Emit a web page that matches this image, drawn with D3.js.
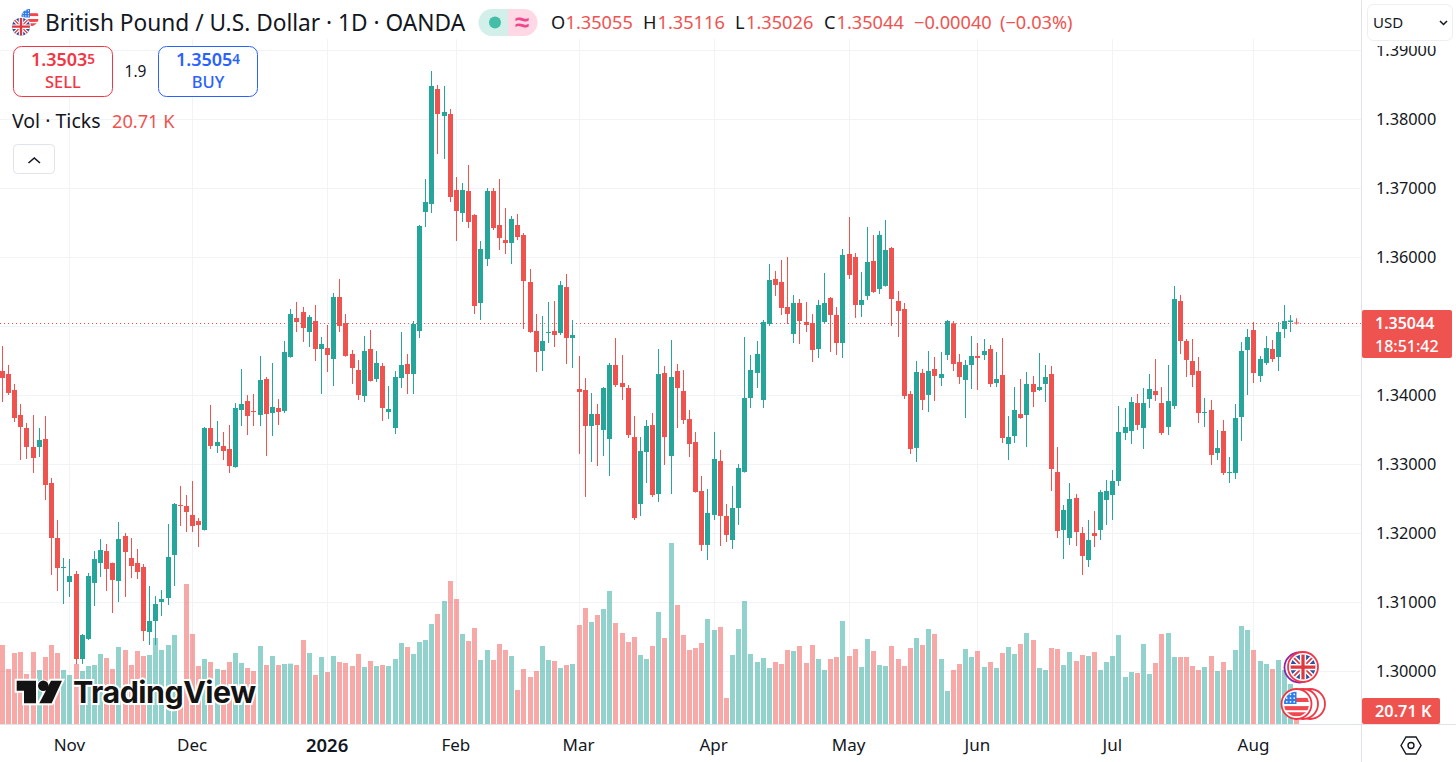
<!DOCTYPE html>
<html>
<head>
<meta charset="utf-8">
<title>GBPUSD</title>
<script src="https://cdn.jsdelivr.net/npm/d3@7/dist/d3.min.js"></script>
<style>
html, body { margin: 0; padding: 0; background: #fff; overflow: hidden; }
svg { display: block; font-family: "Noto Sans", sans-serif; }
</style>
</head>
<body>
<svg id="chart" width="1456" height="762"></svg>
<script>
const opens = [1.34352,1.34309,1.34077,1.33715,1.33526,1.33251,1.33251,1.33367,1.32729,1.31932,1.31497,1.31294,1.31410,1.30178,1.30468,1.31280,1.31570,1.31743,1.31570,1.31309,1.31961,1.31642,1.31570,1.31512,1.30570,1.30729,1.31004,1.31062,1.31686,1.32410,1.32396,1.32265,1.32178,1.32048,1.33526,1.33265,1.33265,1.33222,1.32961,
1.33787,1.33917,1.33772,1.33715,1.34236,1.33743,1.33816,1.33772,1.34555,1.35120,1.35207,1.34917,1.35077,1.34671,1.34686,1.34526,1.35425,1.35048,1.34599,1.34367,1.33990,1.34671,1.34236,1.34425,1.33758,1.33526,1.34251,1.34454,1.34309,1.34932,1.36657,1.36772,1.38439,1.38048,1.38077,1.36975,1.36642,1.36961,
1.36613,1.35337,1.35975,1.36961,1.36468,1.36250,1.36207,1.36468,1.36323,1.35642,1.34932,1.34642,1.34903,1.34932,1.34903,1.35569,1.34830,1.34091,1.34077,1.33555,1.33729,1.33497,1.33366,1.34439,1.34178,1.34106,1.33395,1.32424,1.33178,1.33569,1.32569,1.34323,1.33120,1.34352,1.34062,1.33656,1.33323,
1.32613,1.31831,1.32266,1.33048,1.32251,1.31903,1.32367,1.32889,1.33961,1.34324,1.33932,1.35034,1.35686,1.35643,1.35280,1.34889,1.35338,1.35063,1.35048,1.34671,1.35063,1.35411,1.35164,1.34758,1.36048,1.36005,1.35309,1.35440,1.35947,1.35541,1.35585,1.36135,1.35367,1.35251,1.34019,1.33237,1.34324,1.34005,
1.34381,1.34251,1.34584,1.35043,1.34483,1.34222,1.34439,1.34570,1.34584,1.34671,1.34178,1.34294,1.33294,1.33410,1.33729,1.33714,1.34164,1.34077,1.34164,1.34309,1.32888,1.32048,1.31932,1.32512,1.32004,1.31613,1.32004,1.32048,1.32483,1.32555,1.32758,1.33454,1.33483,1.33888,1.33526,1.33946,1.34062,1.33888,1.33541,1.33845,1.35367,1.34787,1.34497,1.34352,1.33743,1.33787,1.33164,1.33483,1.32874,1.32874,1.33685,1.34656,1.34946,1.34280,1.34468,1.34671,1.34555,1.34961,1.35062,1.35055];
const highs = [1.34715,1.34439,1.34164,1.33874,1.33599,1.33715,1.33526,1.33700,1.32801,1.32193,1.31642,1.31627,1.31454,1.30540,1.31425,1.31743,1.31917,1.31845,1.31575,1.32164,1.32004,1.31932,1.31772,1.31555,1.31236,1.31091,1.31178,1.32135,1.32439,1.32686,1.32555,1.32758,1.32222,1.33541,1.33860,1.33628,1.33468,1.33570,1.33889,
1.34381,1.34004,1.34019,1.34570,1.34265,1.34468,1.33946,1.34787,1.35251,1.35352,1.35280,1.35164,1.35309,1.34845,1.35019,1.35483,1.35686,1.35178,1.34657,1.34512,1.34860,1.34946,1.34642,1.34468,1.34135,1.34352,1.34917,1.34599,1.35077,1.36468,1.37135,1.38700,1.38497,1.38483,1.38149,1.37164,1.37077,1.37338,
1.36625,1.36236,1.37004,1.37004,1.37135,1.36714,1.36598,1.36627,1.36352,1.35830,1.35178,1.35149,1.35352,1.35366,1.35656,1.35758,1.35091,1.34569,1.34250,1.34033,1.33874,1.34120,1.34468,1.34830,1.34584,1.34149,1.33700,1.33395,1.33642,1.33743,1.34671,1.34424,1.34801,1.34453,1.34366,1.33787,1.33468,
1.32831,1.32642,1.33469,1.33208,1.32425,1.32686,1.33005,1.34845,1.34585,1.34787,1.35092,1.35903,1.35802,1.35961,1.36005,1.35454,1.35396,1.35353,1.35179,1.35382,1.35773,1.35425,1.35280,1.36121,1.36585,1.36063,1.35787,1.36440,1.36324,1.36382,1.36541,1.36150,1.35512,1.35338,1.34063,1.34498,1.34382,1.34642,
1.34555,1.34628,1.35091,1.35077,1.34599,1.34512,1.34859,1.34758,1.34816,1.34729,1.34628,1.34830,1.33700,1.34120,1.34236,1.34338,1.34280,1.34613,1.34439,1.34425,1.33251,1.32410,1.32729,1.32569,1.32091,1.32193,1.32323,1.32627,1.32772,1.32917,1.33845,1.33816,1.33975,1.34019,1.34106,1.34309,1.34526,1.34120,1.34439,1.35584,1.35454,1.34816,1.34816,1.34555,1.33961,1.33932,1.33497,1.33642,1.33106,1.33874,1.34772,1.34961,1.35062,1.34570,1.34859,1.34801,1.35062,1.35309,1.35164,1.35116];
const lows = [1.33903,1.34005,1.33613,1.33062,1.33077,1.32874,1.33106,1.32483,1.31396,1.31164,1.30975,1.31077,1.30106,1.30106,1.30454,1.30946,1.31367,1.31164,1.30845,1.31004,1.31077,1.31352,1.31338,1.30439,1.30381,1.30381,1.30801,1.30961,1.31236,1.32106,1.32019,1.32019,1.31802,1.32040,1.33222,1.33164,1.33062,1.32874,1.32950,
1.33555,1.33425,1.33555,1.33555,1.33120,1.33410,1.33570,1.33743,1.34545,1.34917,1.34773,1.34700,1.34497,1.34019,1.34338,1.34135,1.34917,1.34560,1.34164,1.33932,1.33903,1.34200,1.34193,1.33628,1.33657,1.33439,1.34106,1.34019,1.34019,1.34830,1.36439,1.36642,1.37497,1.37425,1.36801,1.36236,1.36512,1.36425,
1.35178,1.35091,1.35874,1.36395,1.36106,1.36048,1.35903,1.36250,1.34961,1.34905,1.34337,1.34352,1.34758,1.34700,1.34874,1.34453,1.34395,1.33149,1.32526,1.33033,1.32975,1.33120,1.32830,1.34120,1.33932,1.33381,1.32192,1.32250,1.32729,1.32526,1.32453,1.32990,1.32569,1.33526,1.33584,1.33105,1.32590,
1.31744,1.31613,1.32193,1.31816,1.31874,1.31773,1.32121,1.32880,1.33816,1.34106,1.33816,1.35005,1.35440,1.35164,1.35034,1.34758,1.34744,1.34918,1.34483,1.34541,1.35048,1.34628,1.34585,1.34541,1.35686,1.35121,1.35135,1.35382,1.35483,1.35469,1.35575,1.35005,1.34845,1.33947,1.33150,1.33034,1.33787,1.33758,
1.33917,1.34135,1.34512,1.34352,1.34164,1.33671,1.34091,1.34077,1.34512,1.34120,1.34120,1.33309,1.33062,1.33309,1.33660,1.33251,1.33830,1.34062,1.33903,1.32613,1.31932,1.31627,1.31830,1.31816,1.31396,1.31511,1.31801,1.31903,1.32120,1.32193,1.32685,1.33352,1.33294,1.33497,1.33222,1.33816,1.33917,1.33425,1.33425,1.33801,1.34599,1.34265,1.34120,1.33599,1.33541,1.32990,1.33062,1.32845,1.32729,1.32787,1.33338,1.34004,1.34178,1.34193,1.34439,1.34483,1.34352,1.34830,1.34917,1.35026];
const closes = [1.34251,1.34034,1.33671,1.33541,1.33251,1.33091,1.33352,1.32700,1.31932,1.31497,1.31512,1.31381,1.30178,1.30526,1.31381,1.31627,1.31758,1.31483,1.31323,1.31917,1.31729,1.31526,1.31439,1.30584,1.30729,1.30975,1.31048,1.31657,1.32425,1.32396,1.32309,1.32106,1.32120,1.33526,1.33265,1.33323,1.33193,1.32975,1.33816,
1.33874,1.33700,1.33758,1.34222,1.33729,1.33830,1.33758,1.34628,1.35178,1.35062,1.34975,1.35135,1.34671,1.34744,1.34584,1.35425,1.35005,1.34570,1.34396,1.34004,1.34642,1.34207,1.34468,1.33816,1.33801,1.34265,1.34439,1.34309,1.35033,1.36454,1.36801,1.38483,1.38077,1.38106,1.36874,1.36671,1.36975,1.36512,
1.35294,1.36120,1.36961,1.36424,1.36279,1.36207,1.36555,1.36294,1.35656,1.34917,1.34627,1.34787,1.34917,1.34874,1.35598,1.34830,1.34874,1.34048,1.33555,1.33729,1.33569,1.34106,1.34439,1.34149,1.34120,1.33424,1.32221,1.33192,1.33555,1.32555,1.34308,1.33395,1.34265,1.34106,1.33642,1.33294,1.32598,
1.31831,1.32295,1.33077,1.32251,1.31976,1.32367,1.32947,1.33961,1.34367,1.34599,1.35063,1.35671,1.35599,1.35266,1.35179,1.35338,1.35077,1.35019,1.34657,1.35309,1.35338,1.35164,1.34758,1.36034,1.35744,1.35309,1.35382,1.35932,1.35498,1.36324,1.36106,1.35396,1.35222,1.33990,1.33222,1.34338,1.33932,1.34353,
1.34280,1.34309,1.35077,1.34454,1.34265,1.34439,1.34570,1.34541,1.34642,1.34164,1.34236,1.33381,1.33396,1.33787,1.33671,1.34164,1.34048,1.34120,1.34265,1.32932,1.32033,1.32338,1.32497,1.32019,1.31671,1.31903,1.31961,1.32598,1.32613,1.32758,1.33468,1.33541,1.33903,1.33570,1.33888,1.34091,1.34004,1.33454,1.33917,1.35396,1.34787,1.34512,1.34294,1.33743,1.33758,1.33135,1.33236,1.32874,1.32888,1.33671,1.34642,1.34845,1.34323,1.34526,1.34685,1.34526,1.34917,1.35077,1.35084,1.35044];
// volume in thousands of ticks
const volumes = [59.25,41.25,53.25,54,37.5,54,40.5,50.25,59.25,53.25,40.5,36.75,45,39.75,43.5,44.25,52.5,49.5,41.25,57.75,55.5,44.25,54.75,51,51.75,64.5,55.5,59.25,66.75,20.5,105,67.5,43.5,48.75,46.5,41.25,40.5,46.5,53.25,45.75,42,39.75,58.5,44.25,51,44.25,45,45.25,44.25,63,53.25,36.75,50.25,39,51,46.5,45.75,43.5,52.5,42.75,47.25,43.5,44.25,43.5,48.75,60.75,57.75,52.5,61.5,63,75,82.5,92.25,107.25,93.75,67.5,62.25,72,48,55.5,48,60,55.5,51,25.5,41.25,35.25,39.75,58.5,48,47.25,42,44.25,45,74.25,87,76.5,81.75,86.25,99.75,75.75,68.25,61.5,65.25,51.75,48.75,58.5,84,64.5,135.75,89.25,66.75,55.5,57,60.75,78.75,70.5,72.75,19.5,51.75,71.25,92.25,52.5,46.5,49.5,42,46.5,45,55.5,54.75,58.5,45.75,59.25,48.75,40.5,48.75,50.25,77.25,51,56.25,42.75,63.75,54.75,44.25,43.5,58.5,48.75,43.5,57,64.5,59.25,71.25,67.5,48.75,24.75,40.5,45,56.25,50.25,54.75,42.75,46.5,42,53.25,57.75,52.5,60,68.25,63,42,40.5,57,56.25,44.25,54,47.25,51.75,51,54,40.5,46.5,51,66.75,35.25,39,38.25,60,37.5,45.75,67.5,68.25,50.25,50.25,50.25,43.5,40.5,42.75,51,39.75,46.5,40.5,55.5,73.5,70.5,55.5,47.25,45,41.25,48,40.5,30,20.71];

const priceTicks = [1.30,1.31,1.32,1.33,1.34,1.35,1.36,1.37,1.38,1.39];
// the 1.35 label sits behind the last price tag, so it gets a grid line but no label
const priceLabels = priceTicks.filter(d => d != 1.35);
const monthTicks = [11,31,53,74,94,116,138,159,181,204];
const monthLabels = ["Nov","Dec","2026","Feb","Mar","Apr","May","Jun","Jul","Aug"];
const lastPrice = 1.35044;

const upColor = "#26a69a", downColor = "#ef5350", gridColor = "#f2f3f6", lineColor = "#e0e3eb", textColor = "#131722";

const svg = d3.select("#chart");
const x = d3.scaleLinear().domain([0, 211]).range([2.4, 1296.9]);
const y = d3.scaleLinear().domain([1.30, 1.39]).range([671.3, 50.3]);
const v = d3.scaleLinear().domain([0, 100]).range([724, 590.67]);
const col = i => closes[i] >= opens[i] ? upColor : downColor;
const idx = d3.range(opens.length);

// grid
const grid = svg.append("g");
grid.selectAll(".gh").data(priceTicks).enter().append("line").attr("x1", 0).attr("x2", 1361)
    .attr("y1", d => Math.round(y(d)) + .5).attr("y2", d => Math.round(y(d)) + .5)
    .attr("stroke", gridColor);
grid.selectAll(".gv").data(monthTicks).enter().append("line").attr("y1", 0).attr("y2", 724)
    .attr("x1", d => Math.floor(x(d)) + .5).attr("x2", d => Math.floor(x(d)) + .5)
    .attr("stroke", gridColor);

// volume
svg.append("g").selectAll("rect").data(idx).enter().append("rect")
    .attr("x", i => Math.floor(x(i)) - 2).attr("width", 5)
    .attr("y", i => v(volumes[i])).attr("height", i => v(0) - v(volumes[i]))
    .attr("fill", col).attr("fill-opacity", .5);

// last price line
svg.append("line").attr("x1", 0).attr("x2", 1361)
    .attr("y1", Math.round(y(lastPrice)) + .5).attr("y2", Math.round(y(lastPrice)) + .5)
    .attr("stroke", downColor).attr("stroke-dasharray", "1 3");

// candles
const candle = svg.append("g").selectAll("g").data(idx).enter().append("g").attr("fill", col);
candle.append("rect").attr("x", i => Math.floor(x(i))).attr("width", 1)
    .attr("y", i => y(highs[i])).attr("height", i => y(lows[i]) - y(highs[i]));
candle.append("rect").attr("x", i => Math.floor(x(i)) - 2).attr("width", 5)
    .attr("y", i => y(Math.max(opens[i], closes[i])))
    .attr("height", i => Math.max(1, Math.abs(y(opens[i]) - y(closes[i]))));

// header sits on white, so the grid starts below it
svg.append("rect").attr("x", 0).attr("y", 0).attr("width", 1361).attr("height", 39).attr("fill", "#fff");

// axes
svg.append("rect").attr("x", 0).attr("y", 725).attr("width", 1456).attr("height", 37).attr("fill", "#fff");
svg.append("line").attr("x1", 0).attr("x2", 1456).attr("y1", 724.5).attr("y2", 724.5).attr("stroke", lineColor);
svg.append("line").attr("x1", 1361.5).attr("x2", 1361.5).attr("y1", 0).attr("y2", 762).attr("stroke", lineColor);

const yAxis = svg.append("g").attr("transform", "translate(1376,0)")
    .call(d3.axisRight(y).tickValues(priceLabels).tickFormat(d3.format(".5f")).tickSize(0).tickPadding(0));
const xAxis = svg.append("g").attr("transform", "translate(-1,739)")
    .call(d3.axisBottom(x).tickValues(monthTicks).tickFormat((d, i) => monthLabels[i]).tickSize(0).tickPadding(0));
[yAxis, xAxis].forEach(a => {
    a.select(".domain").remove();
    a.selectAll("text").attr("font-family", '"Noto Sans", sans-serif').attr("font-size", 16.3).attr("fill", textColor);
});
xAxis.selectAll("text").attr("font-size", 17);
xAxis.selectAll("text").filter(d => d == 53).attr("font-weight", 600).attr("font-size", 18.5);

// flags
function ukFlag(g, cx, cy, r, id) {
    g.append("clipPath").attr("id", id).append("circle").attr("cx", cx).attr("cy", cy).attr("r", r);
    const f = g.append("g").attr("clip-path", `url(#${id})`);
    f.append("rect").attr("x", cx - r).attr("y", cy - r).attr("width", 2 * r).attr("height", 2 * r).attr("fill", "#2c4f9e");
    const d = `M${cx - r} ${cy - r}L${cx + r} ${cy + r}M${cx + r} ${cy - r}L${cx - r} ${cy + r}`;
    f.append("path").attr("d", d).attr("stroke", "#fff").attr("stroke-width", r * .4);
    f.append("path").attr("d", d).attr("stroke", "#e0383e").attr("stroke-width", r * .14);
    const d2 = `M${cx - r} ${cy}H${cx + r}M${cx} ${cy - r}V${cy + r}`;
    f.append("path").attr("d", d2).attr("stroke", "#fff").attr("stroke-width", r * .5);
    f.append("path").attr("d", d2).attr("stroke", "#e0383e").attr("stroke-width", r * .26);
}
function usFlag(g, cx, cy, r, id) {
    g.append("clipPath").attr("id", id).append("circle").attr("cx", cx).attr("cy", cy).attr("r", r);
    const f = g.append("g").attr("clip-path", `url(#${id})`);
    f.append("rect").attr("x", cx - r).attr("y", cy - r).attr("width", 2 * r).attr("height", 2 * r).attr("fill", "#fff");
    [-.33, .33, .82].forEach(k => f.append("rect").attr("x", cx - r).attr("y", cy + k * r - r * .16)
        .attr("width", 2 * r).attr("height", r * .33).attr("fill", "#f0484e"));
    f.append("rect").attr("x", cx - r).attr("y", cy - r).attr("width", r).attr("height", r).attr("fill", "#2f7ce8");
    for (let a = 0; a < 3; a++) for (let b = 0; b < 3; b++)
        f.append("circle").attr("cx", cx - r * (.78 - a * .3)).attr("cy", cy - r * (.78 - b * .3))
            .attr("r", r * .07).attr("fill", "#fff");
}

// header icons
const head = svg.append("g");
usFlag(head, 30, 17.5, 8.8, "h-us");
head.append("circle").attr("cx", 21).attr("cy", 26.7).attr("r", 10).attr("fill", "#fff");
ukFlag(head, 21, 26.7, 9, "h-uk");

head.append("text").attr("x", 45).attr("y", 31).attr("font-size", 22.7).attr("fill", textColor)
    .text("British Pound / U.S. Dollar · 1D · OANDA");

// market status pill
head.append("path").attr("d", "M492 9H508V36H492A13.5 13.5 0 0 1 492 9Z").attr("fill", "#d2efea");
head.append("path").attr("d", "M508 9H524A13.5 13.5 0 0 1 524 36H508Z").attr("fill", "#ffd8e6");
head.append("circle").attr("cx", 495).attr("cy", 22.5).attr("r", 6).attr("fill", "#45bea8");
head.append("text").attr("x", 522).attr("y", 31).attr("text-anchor", "middle").attr("font-size", 26)
    .attr("font-weight", "bold").attr("fill", "#f1458c").text("≈");

const ohlc = [["O", 551, textColor], ["1.35055", 565.5, downColor], ["H", 643, textColor], ["1.35116", 657.5, downColor],
    ["L", 735, textColor], ["1.35026", 746, downColor], ["C", 824, textColor], ["1.35044", 836.5, downColor],
    ["−0.00040", 914, downColor], ["(−0.03%)", 1000, downColor]];
head.selectAll(".ohlc").data(ohlc).enter().append("text").attr("class", "ohlc").attr("y", 29).attr("font-size", 18.2)
    .attr("x", d => d[1]).attr("fill", d => d[2]).text(d => d[0]);

// trade buttons
function tradeBox(bx, color, price, small, label) {
    const g = svg.append("g").attr("fill", color);
    g.append("rect").attr("x", bx + .5).attr("y", 46.5).attr("width", 99).attr("height", 50).attr("rx", 8)
        .attr("fill", "#fff").attr("stroke", color);
    const t = g.append("text").attr("x", bx + 50).attr("y", 66).attr("text-anchor", "middle").attr("font-size", 18).attr("font-weight", 600);
    t.append("tspan").text(price);
    t.append("tspan").attr("font-size", 13.5).attr("dy", -2).text(small);
    g.append("text").attr("x", bx + 50).attr("y", 87.5).attr("text-anchor", "middle").attr("font-size", 16.5).attr("font-weight", 500).text(label);
}
tradeBox(13, "#f23645", "1.3503", "5", "SELL");
tradeBox(158, "#2962ff", "1.3505", "4", "BUY");
svg.append("text").attr("x", 135.5).attr("y", 76.5).attr("text-anchor", "middle").attr("font-size", 15.5).attr("fill", textColor).text("1.9");

// volume legend
svg.append("text").attr("x", 12).attr("y", 128).attr("font-size", 19.5).attr("fill", textColor).text("Vol · Ticks");
svg.append("text").attr("x", 112).attr("y", 128).attr("font-size", 18.2).attr("fill", downColor).text("20.71 K");

// collapse button
svg.append("rect").attr("x", 13.5).attr("y", 144.5).attr("width", 41).attr("height", 29).attr("rx", 4)
    .attr("fill", "#fff").attr("stroke", lineColor);
svg.append("path").attr("d", "M28.5 163L34.3 158L40 163").attr("fill", "none").attr("stroke", textColor).attr("stroke-width", 1.6);

// currency select, it also covers the top of the highest price label
svg.append("rect").attr("x", 1362).attr("y", 0).attr("width", 94).attr("height", 46).attr("fill", "#fff");
svg.append("rect").attr("x", 1367.5).attr("y", 4.5).attr("width", 85).attr("height", 36).attr("rx", 6)
    .attr("fill", "#fff").attr("stroke", "#eceef2");
svg.append("text").attr("x", 1373).attr("y", 28).attr("font-size", 15).attr("fill", textColor).text("USD");
svg.append("path").attr("d", "M1440 21L1443.5 24.5L1447 21").attr("fill", "none").attr("stroke", textColor).attr("stroke-width", 1.5);

// price and volume tags
svg.append("rect").attr("x", 1362).attr("y", 310).attr("width", 90).attr("height", 48).attr("rx", 2).attr("fill", downColor);
svg.append("text").attr("x", 1375).attr("y", 328.5).attr("font-size", 16).attr("font-weight", 600).attr("fill", "#fff").text("1.35044");
svg.append("text").attr("x", 1375).attr("y", 351.5).attr("font-size", 16).attr("font-weight", 500).attr("fill", "#fff").text("18:51:42");
svg.append("rect").attr("x", 1362).attr("y", 698).attr("width", 78).attr("height", 26).attr("rx", 2).attr("fill", downColor);
svg.append("text").attr("x", 1375).attr("y", 717).attr("font-size", 16.3).attr("font-weight", 600).attr("fill", "#fff").text("20.71 K");

// settings icon
svg.append("path").attr("d", "M1401 745.5L1406 737H1416L1421 745.5L1416 754H1406Z").attr("fill", "none").attr("stroke", textColor).attr("stroke-width", 1.4);
svg.append("circle").attr("cx", 1411).attr("cy", 745.5).attr("r", 3).attr("fill", "none").attr("stroke", textColor).attr("stroke-width", 1.4);

// logo
const logo = svg.append("g");
const logoShapes = "M16.7 680.7H36V703.3H24V690.7H16.7ZM51 680.7H62L51.7 703.3H39.3Z";
logo.append("path").attr("d", logoShapes).attr("fill", "#fff").attr("stroke", "#fff").attr("stroke-width", 4);
logo.append("circle").attr("cx", 43.3).attr("cy", 685.7).attr("r", 5.3).attr("fill", "#131313").attr("stroke", "#fff").attr("stroke-width", 2).attr("paint-order", "stroke");
logo.append("path").attr("d", logoShapes).attr("fill", "#131313");
logo.append("text").attr("x", 73).attr("y", 703).attr("font-size", 30.4).attr("font-weight", 700).attr("font-family", "Inter, sans-serif")
    .attr("fill", "#131313").attr("stroke", "#fff").attr("stroke-width", 4).attr("paint-order", "stroke").attr("letter-spacing", -.5).text("TradingView");

// event flags near the last bar
const marks = svg.append("g");
function ring(cx, cy, r, color) {
    marks.append("circle").attr("cx", cx).attr("cy", cy).attr("r", r).attr("fill", "#fff").attr("stroke", color).attr("stroke-width", 1.8);
}
ring(1299.5, 667.5, 15, "#8e24aa");
ring(1303, 667, 15, "#f23645");
ukFlag(marks, 1303, 667, 12.5, "m-uk");
ring(1310, 704, 15, "#f23645");
ring(1303, 704, 15, "#f23645");
ring(1296.5, 704, 15, "#f23645");
usFlag(marks, 1296.5, 704, 12.5, "m-us");
</script>
</body>
</html>
